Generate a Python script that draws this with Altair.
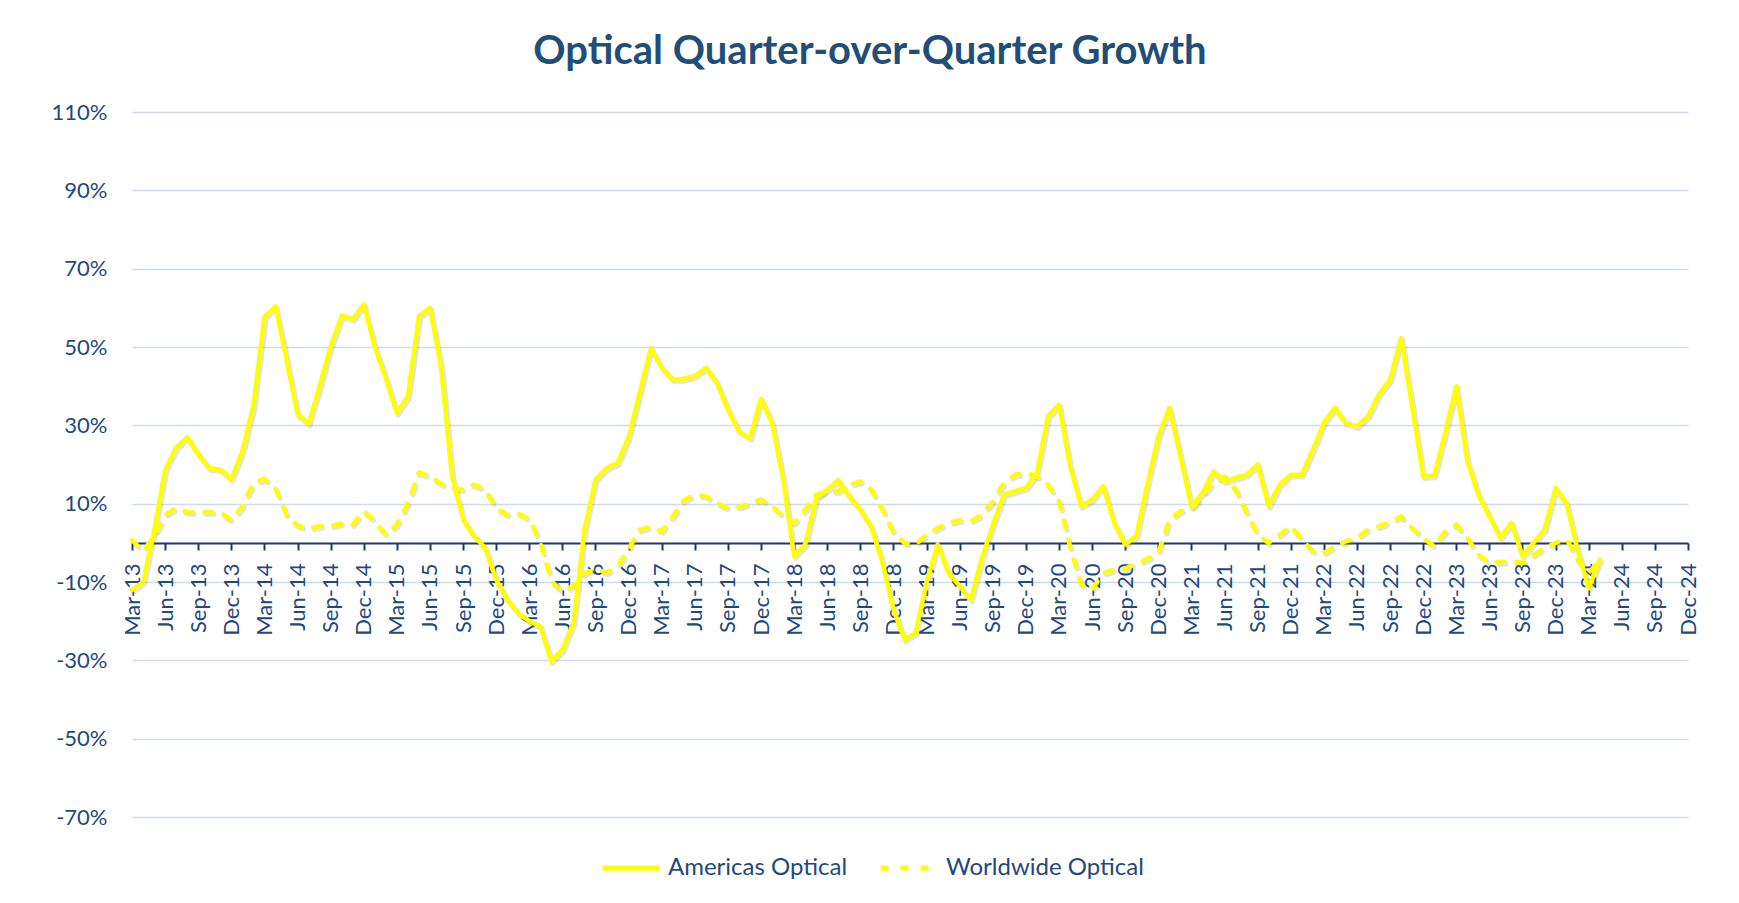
import altair as alt
import pandas as pd

# ---- categories (monthly, Mar-13 .. Dec-24) ----
months_all = [d.strftime("%b-%y") for d in pd.date_range("2013-03-01", "2024-12-01", freq="MS")]
tick_labels = months_all[::3]

# ---- series values (%), Mar-13 .. Apr-24 ----
americas = [
    -12, -10, 3, 18.7, 24.3, 27, 22.6, 19.1, 18.7, 16.3,                      # 2013
    23.4, 35, 57.7, 60.4, 46.8, 32.8, 30.5, 40, 50.2, 58, 57.2, 60.9,          # 2014
    50, 42, 33.2, 37.4, 57.9, 60, 45, 17, 6, 1.7, -1.3, -9.4,                  # 2015
    -14.5, -17.9, -20, -21.3, -30.2, -27.2, -20.4, 3.4, 16.2, 19.1, 20.4, 27,  # 2016
    38.3, 49.8, 44.7, 41.7, 41.9, 42.6, 44.7, 40.9, 34, 28.5, 26.8, 36.8,      # 2017
    30.6, 16.2, -3.4, -0.4, 11.5, 13.6, 16, 11.9, 8.5, 4, -5, -17,             # 2018
    -24.7, -23, -10, -0.4, -7.7, -11, -14.5, -4, 4.5, 12.3, 13.2, 14,          # 2019
    17.9, 32.3, 35.3, 19.6, 9.4, 11, 14.5, 5.1, -0.4, 1.7, 14.9, 27.2,         # 2020
    34.5, 22.1, 9.4, 12.8, 18.3, 15.7, 16.6, 17.4, 20, 9.4, 14.9, 17.4,        # 2021
    17.4, 23.8, 30.6, 34.5, 30.6, 29.8, 32.3, 38, 41.7, 52.3, 34.9, 17,        # 2022
    17.2, 28.1, 40, 20.9, 12.3, 6.8, 1.3, 5.1, -3.4, 0, 3.4, 14,               # 2023
    10, -2, -11.5, -4.3,                                                       # 2024
]
worldwide = [
    0.7, -2.1, 1.7, 7.2, 8.9, 7.9, 7.8, 7.9, 7.9, 5.8,                         # 2013
    9.4, 15.3, 16.4, 13.8, 7.2, 4.4, 3.6, 4.3, 4.4, 4.9, 4.7, 8.1,             # 2014
    5.5, 2.1, 4.7, 10.2, 18, 17, 15.1, 14, 13.6, 14.9, 13.6, 8.9,              # 2015
    7.2, 7.5, 6.1, 0, -9.8, -12.3, -11, -7.7, -6.8, -7.5, -6, -1.5,            # 2016
    3.4, 4.1, 3, 6.8, 10.9, 12.3, 11.9, 10.2, 8.9, 9.2, 10, 11.1,              # 2017
    9.4, 6.8, 5.1, 8.5, 12.3, 13.2, 13.2, 14.9, 15.7, 13.6, 8.5, 2.6,          # 2018
    0, -0.4, 2.1, 3.8, 5.1, 5.8, 5.5, 7.2, 10.6, 15.3, 17.4, 17.9,             # 2019
    17, 14.9, 10.6, -0.9, -10.6, -11.9, -7.7, -6.8, -6.5, -5.5, -4, -2.6,      # 2020
    6, 8.1, 8.7, 11.9, 15.7, 17, 13.6, 7.7, 2.1, 0, 2.1, 4.3,                  # 2021
    0.9, -2.1, -2.6, -0.9, 0.4, 1.3, 3.4, 4.3, 5.3, 6.8, 3.8, 1.3,             # 2022
    -0.9, 3, 4.7, 1.3, -3, -5.1, -4.9, -4.7, -5.1, -3, -1.3, 0,                # 2023
    1, -4.3, -7.7, -4.3,                                                       # 2024
]
series_names = ["Americas Optical", "Worldwide Optical"]
y_ticks = [-70, -50, -30, -10, 10, 30, 50, 70, 90, 110]

n = len(americas)
df = pd.DataFrame({
    "month": months_all[:n] * 2,
    "idx": list(range(n)) * 2,
    "value": americas + worldwide,
    "series": [series_names[0]] * n + [series_names[1]] * n,
})
df["shadow_series"] = df["series"]

TEXT = "#1F497D"
FONT = "Lato"
YELLOW = "#FFFF00"

x_enc = alt.X(
    "month:O",
    scale=alt.Scale(type="point", domain=months_all, padding=0),
    axis=alt.Axis(
        values=tick_labels, labelAngle=270, labelOverlap=False, title=None,
        offset=-274, domainColor="#1F3864", domainWidth=2,
        tickColor="#1F3864", tickWidth=2, tickSize=7, labelPadding=13,
        labelFontSize=22, labelFont=FONT, labelColor=TEXT, grid=False,
    ),
)
y_enc = alt.Y(
    "value:Q",
    scale=alt.Scale(domain=[-70, 110], nice=False, zero=False),
    axis=alt.Axis(
        values=y_ticks, labelExpr="datum.value + '%'", title=None,
        ticks=False, domain=False, labelPadding=25, labelFontSize=22,
        labelFont=FONT, labelColor=TEXT,
        grid=True, gridColor="#CFDCF0", gridWidth=1.5,
    ),
)
dash_range = [[1, 0], [8, 12]]

shadow = alt.Chart(df).mark_line(
    color="#808080", opacity=0.22, strokeWidth=5.5, xOffset=1.5, yOffset=2,
    strokeCap="round", strokeJoin="round",
).encode(
    x=x_enc, y=y_enc,
    strokeDash=alt.StrokeDash(
        "shadow_series:N",
        scale=alt.Scale(domain=series_names, range=dash_range),
        legend=None,
    ),
    order="idx:Q",
)

lines = alt.Chart(df).mark_line(
    color=YELLOW, strokeWidth=4.5, strokeCap="round", strokeJoin="round",
).encode(
    x=x_enc, y=y_enc,
    strokeDash=alt.StrokeDash(
        "series:N",
        scale=alt.Scale(domain=series_names, range=dash_range),
        legend=alt.Legend(
            title=None, orient="none", legendX=468, legendY=725,
            direction="horizontal", symbolType="stroke", symbolSize=3249,
            symbolStrokeWidth=5, symbolStrokeColor=YELLOW,
            labelFont=FONT, labelFontSize=24, labelColor=TEXT, labelLimit=0,
            labelOffset=6, columnPadding=22, padding=0,
        ),
    ),
    order="idx:Q",
)

chart = alt.layer(shadow, lines).resolve_scale(
    strokeDash="independent"
).resolve_legend(
    strokeDash="independent"
).properties(
    width=1556, height=705,
    autosize=alt.AutoSizeParams(type="none"),
    padding={"left": 124, "top": 104, "right": 43, "bottom": 78},
    title=alt.TitleParams(
        "Optical Quarter-over-Quarter Growth", font=FONT, fontSize=40,
        fontWeight="bold", color="#1F4E79", anchor="middle", frame="group",
        dx=-40, dy=52, offset=49, baseline="alphabetic",
    ),
).configure_view(stroke=None)

chart.save("out.html", embed_options={"renderer": "svg", "actions": False})
